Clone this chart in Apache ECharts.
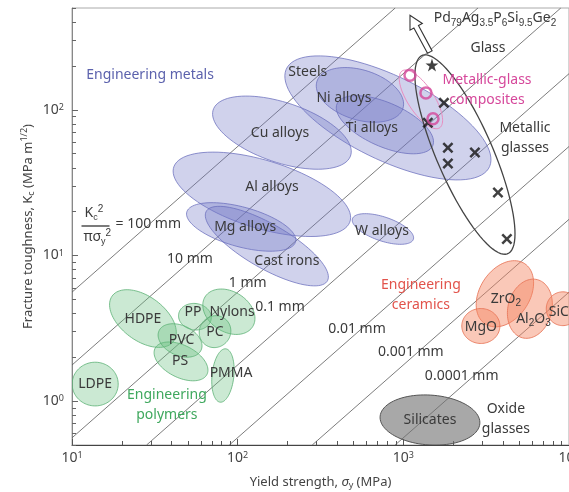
<!DOCTYPE html>
<html>
<head>
<meta charset="utf-8">
<title>Fracture toughness vs yield strength</title>
<script src="https://cdn.jsdelivr.net/npm/echarts@6.0.0/dist/echarts.min.js"></script>
<style>
  html, body { margin: 0; padding: 0; background: #fff; }
  #chart { width: 569px; height: 492px; }
</style>
</head>
<body>
<div id="chart"></div>
<script>
// Yield strength (MPa) against fracture toughness (MPa m^1/2), both on log scales.
// Envelopes: [name, centre sigma_y, centre K_c, half-length (decades), half-width (decades), tilt (deg)]
const metals = [
  ['Steels', 807, 88, 0.70, 0.28, -30],
  ['Cu alloys', 185, 69.7, 0.444, 0.203, -22],
  ['Al alloys', 140, 26.3, 0.564, 0.23, -20],
  ['Mg alloys', 105, 15.7, 0.344, 0.135, -18],
  ['Cast irons', 150, 11.6, 0.437, 0.147, -34],
  ['W alloys', 753, 15.2, 0.197, 0.081, -22],
  ['Ni alloys', 547, 126.6, 0.276, 0.169, -22],
  ['Ti alloys', 774, 79, 0.323, 0.147, -28]
];
const polymers = [
  ['LDPE', 13.8, 1.31, 0.139, 0.150, 0],
  ['HDPE', 26.8, 3.69, 0.243, 0.144, -44],
  ['PS', 45.5, 1.875, 0.181, 0.107, -33],
  ['PVC', 44.9, 2.61, 0.144, 0.10, -33],
  ['PP', 55.2, 3.80, 0.10, 0.09, -20],
  ['Nylons', 88.5, 4.11, 0.178, 0.132, -44],
  ['PC', 73, 3.0, 0.11, 0.095, 80],
  ['PMMA', 81.5, 1.50, 0.184, 0.066, 85]
];
const ceramics = [
  ['ZrO2', 4102, 5.46, 0.24, 0.155, 65],
  ['MgO', 2937, 3.28, 0.115, 0.12, 0],
  ['Al2O3', 5806, 4.31, 0.205, 0.133, 80],
  ['SiC', 9180, 4.31, 0.116, 0.10, 90]
];
const oxideGlasses = [['Silicates', 1448, 0.742, 0.302, 0.171, -5]];
const metallicGlassRange = [['Metallic glasses', 2355, 49.3, 0.728, 0.173, -69.5]];
const compositeRange = [['Metallic-glass composites', 1277, 118, 0.226, 0.082, -61]];

// individual alloys [sigma_y, K_c]
const glassCrosses = [[1758, 111.6], [1406, 81.5], [1858, 55], [1858, 42.8], [2704, 50.9], [3724, 27.1], [4217, 12.97]];
const glassStar = [[1489, 203]];
const compositeCircles = [[1097, 173], [1369, 130.7], [1510, 86.9]];
const offChartArrow = [[1445, 249, 1097, 445]];

// constant K_c^2 / (pi sigma_y^2) lines, end points [sigma_y, K_c]
const guideNames = ['100 mm', '10 mm', '1 mm', '0.1 mm', '0.01 mm', '0.001 mm', '0.0001 mm'];
const guideStart = [[10, 5.6], [10, 1.77], [10, 0.56], [28.2, 0.5], [89, 0.5], [282, 0.5], [892, 0.5]];
const guideEnd = [[893, 500], [2820, 500], [8920, 500], [10000, 177], [10000, 56], [10000, 17.7], [10000, 5.6]];

// axes
const xRange = [10, 10000];
const yRange = [0.5, 500];
const xMajor = [10, 100, 1000, 10000];
const yMajor = [1, 10, 100];

// text anchors [text, sigma_y, K_c]
const materialLabels = [
  ['Steels', 265, 182], ['Ni alloys', 438, 121], ['Cu alloys', 180, 69.7], ['Ti alloys', 646, 75.4],
  ['Al alloys', 161, 29.4], ['Mg alloys', 111, 15.7], ['Cast irons', 198, 9.17], ['W alloys', 743, 14.7],
  ['Metallic\nglasses', 5420, 64.4], ['Glass', 3243, 265],
  ['Pd{sub|79}Ag{sub|3.5}P{sub|6}Si{sub|9.5}Ge{sub|2}', 3573, 425],
  ['HDPE', 26.8, 3.69], ['PVC', 45.9, 2.61], ['PS', 44.9, 1.875], ['PP', 53.7, 4.11],
  ['Nylons', 92.5, 4.11], ['PC', 73, 3.0], ['PMMA', 91.2, 1.55], ['LDPE', 13.8, 1.31],
  ['ZrO{sub|2}', 4160, 5.05], ['MgO', 2940, 3.25], ['Al{sub|2}O{sub|3}', 6100, 3.69], ['SiC', 8690, 4.11],
  ['Silicates', 1448, 0.742], ['Oxide\nglasses', 4160, 0.753]
];
const guideLabels = [
  ['10 mm', 51.5, 9.46], ['1 mm', 115, 6.49], ['0.1 mm', 180, 4.45], ['0.01 mm', 525, 3.15],
  ['0.001 mm', 1111, 2.19], ['0.0001 mm', 2250, 1.48]
];
const metalTitle = [['Engineering metals', 29.6, 173]];
const compositeTitle = [['Metallic-glass\ncomposites', 3200, 137]];
const ceramicTitle = [['Engineering\nceramics', 1276, 5.38]];
const polymerTitle = [['Engineering\npolymers', 37.4, 0.939]];

const FONT = '"Noto Sans", sans-serif';
const TEXT = '#3a3a3a';
const lg = Math.log10;

function minorTicks(range) {
  const out = [];
  for (let d = Math.floor(lg(range[0])); d <= Math.ceil(lg(range[1])); d++) {
    for (let k = 2; k <= 9; k++) {
      const v = k * Math.pow(10, d);
      if (v >= range[0] && v <= range[1]) out.push(lg(v));
    }
  }
  return out;
}

function ellipseSeries(rows, fill, stroke, width, z) {
  return {
    type: 'custom',
    coordinateSystem: 'cartesian2d',
    silent: true,
    clip: true,
    z: z,
    data: rows.map(r => [lg(r[1]), lg(r[2]), r[3], r[4], r[5]]),
    renderItem: function (params, api) {
      const cx = api.value(0), cy = api.value(1);
      const a = api.value(2), b = api.value(3);
      const t = api.value(4) * Math.PI / 180;
      const pts = [];
      for (let i = 0; i < 90; i++) {
        const u = i / 90 * 2 * Math.PI;
        const dx = a * Math.cos(u), dy = b * Math.sin(u);
        pts.push(api.coord([cx + dx * Math.cos(t) - dy * Math.sin(t), cy + dx * Math.sin(t) + dy * Math.cos(t)]));
      }
      return {
        type: 'polygon',
        shape: { points: pts },
        style: { fill: fill, stroke: stroke, lineWidth: width }
      };
    }
  };
}

const RICH = {
  sub: { fontSize: 10, verticalAlign: 'bottom', lineHeight: 11 }
};

function labelSeries(rows, color, size) {
  return {
    type: 'custom',
    coordinateSystem: 'cartesian2d',
    silent: true,
    clip: false,
    z: 10,
    data: rows.map(r => [lg(r[1]), lg(r[2])]),
    renderItem: function (params, api) {
      const p = api.coord([api.value(0), api.value(1)]);
      return {
        type: 'text',
        x: p[0],
        y: p[1],
        style: {
          text: rows[params.dataIndex][0],
          fill: color,
          fontSize: size,
          fontFamily: FONT,
          align: 'center',
          verticalAlign: 'middle',
          lineHeight: size + 6,
          rich: RICH
        }
      };
    }
  };
}

const arrowSeries = {
  type: 'custom',
  coordinateSystem: 'cartesian2d',
  silent: true,
  clip: false,
  z: 9,
  data: offChartArrow.map(r => [lg(r[0]), lg(r[1]), lg(r[2]), lg(r[3])]),
  renderItem: function (params, api) {
    const p0 = api.coord([api.value(0), api.value(1)]);
    const p1 = api.coord([api.value(2), api.value(3)]);
    const len = Math.hypot(p1[0] - p0[0], p1[1] - p0[1]);
    const ux = (p1[0] - p0[0]) / len, uy = (p1[1] - p0[1]) / len;
    const nx = -uy, ny = ux;
    const hw = 7, sw = 2.6, hl = 13;
    const bx = p1[0] - ux * hl, by = p1[1] - uy * hl;
    const pts = [
      [p0[0] + nx * sw, p0[1] + ny * sw],
      [bx + nx * sw, by + ny * sw],
      [bx + nx * hw, by + ny * hw],
      p1,
      [bx - nx * hw, by - ny * hw],
      [bx - nx * sw, by - ny * sw],
      [p0[0] - nx * sw, p0[1] - ny * sw]
    ];
    return {
      type: 'polygon',
      shape: { points: pts },
      style: { fill: '#fff', stroke: '#333', lineWidth: 1.1 }
    };
  }
};

const CROSS = 'path://M0,1.6 L1.6,0 L5,3.4 L8.4,0 L10,1.6 L6.6,5 L10,8.4 L8.4,10 L5,6.6 L1.6,10 L0,8.4 L3.4,5 Z';
const STAR = 'path://M5,0 L6.2,3.6 L10,3.6 L6.9,5.9 L8.1,9.5 L5,7.3 L1.9,9.5 L3.1,5.9 L0,3.6 L3.8,3.6 Z';

const guideSeries = guideStart.map((s, i) => ({
  type: 'line',
  name: guideNames[i],
  silent: true,
  symbol: 'none',
  z: 1,
  lineStyle: { color: '#5a5a5a', width: 0.8 },
  data: [[lg(s[0]), lg(s[1])], [lg(guideEnd[i][0]), lg(guideEnd[i][1])]]
}));

const axisRich = {
  b: { fontSize: 14, color: '#444', fontFamily: FONT },
  s: { fontSize: 9, color: '#444', fontFamily: FONT, verticalAlign: 'top', lineHeight: 10 }
};
const nameRich = {
  i: { fontSize: 13, fontStyle: 'italic', color: '#444', fontFamily: FONT },
  sub: { fontSize: 9, color: '#444', fontFamily: FONT, verticalAlign: 'bottom', lineHeight: 10 },
  sup: { fontSize: 9, color: '#444', fontFamily: FONT, verticalAlign: 'top', lineHeight: 10 }
};

function powerLabel(v) {
  return '{b|10}{s|' + Math.round(v) + '}';
}

const chart = echarts.init(document.getElementById('chart'), null, { renderer: 'canvas' });

const option = {
  animation: false,
  backgroundColor: '#fff',
  textStyle: { fontFamily: FONT },
  grid: {
    left: 72, right: 0, top: 8, bottom: 47,
    outerBoundsMode: 'none',
    containLabel: false,
    show: true, borderColor: '#aaa', borderWidth: 1, backgroundColor: 'transparent'
  },
  xAxis: [{
    type: 'value',
    min: lg(xRange[0]),
    max: lg(xRange[1]),
    name: 'Yield strength, {i|σ}{sub|y} (MPa)',
    nameLocation: 'middle',
    nameGap: 29,
    nameMoveOverlap: false,
    nameTextStyle: { fontSize: 13, color: '#444', fontFamily: FONT, lineHeight: 16, rich: nameRich },
    axisLine: { show: true, onZero: false, lineStyle: { color: '#444', width: 1 } },
    axisTick: { show: true, inside: true, length: 6, customValues: xMajor.map(lg), lineStyle: { color: '#555' } },
    axisLabel: { customValues: xMajor.map(lg), formatter: powerLabel, rich: axisRich, margin: 6 },
    splitLine: { show: false }
  }, {
    type: 'value',
    min: lg(xRange[0]),
    max: lg(xRange[1]),
    position: 'bottom',
    axisLine: { show: false, onZero: false },
    axisTick: { show: true, inside: true, length: 4, customValues: minorTicks(xRange), lineStyle: { color: '#555' } },
    axisLabel: { show: false },
    splitLine: { show: false }
  }],
  yAxis: [{
    type: 'value',
    min: lg(yRange[0]),
    max: lg(yRange[1]),
    name: 'Fracture toughness, K{sub|c} (MPa m{sup|1/2})',
    nameLocation: 'middle',
    nameGap: 36,
    nameRotate: 90,
    nameMoveOverlap: false,
    nameTextStyle: { fontSize: 13, color: '#444', fontFamily: FONT, lineHeight: 16, rich: nameRich },
    axisLine: { show: true, onZero: false, lineStyle: { color: '#888', width: 1 } },
    axisTick: { show: true, inside: true, length: 6, customValues: yMajor.map(lg), lineStyle: { color: '#666' } },
    axisLabel: { customValues: yMajor.map(lg), formatter: powerLabel, rich: axisRich, margin: 8 },
    splitLine: { show: false }
  }, {
    type: 'value',
    min: lg(yRange[0]),
    max: lg(yRange[1]),
    position: 'left',
    axisLine: { show: false, onZero: false },
    axisTick: { show: true, inside: true, length: 4, customValues: minorTicks(yRange), lineStyle: { color: '#666' } },
    axisLabel: { show: false },
    splitLine: { show: false }
  }],
  graphic: [{
    type: 'group',
    left: 79,
    top: 204,
    silent: true,
    children: [
      { type: 'text', x: 3, y: 0, style: { text: 'K{sub|c}{sup|2}', fill: TEXT, fontSize: 14, fontFamily: FONT, lineHeight: 18,
        rich: { sub: { fontSize: 9, verticalAlign: 'bottom', lineHeight: 10 }, sup: { fontSize: 10, verticalAlign: 'top', lineHeight: 10 } } } },
      { type: 'line', shape: { x1: 0, y1: 22, x2: 28, y2: 22 }, style: { stroke: '#333', lineWidth: 1.3 } },
      { type: 'text', x: 2, y: 24, style: { text: 'πσ{sub|y}{sup|2}', fill: TEXT, fontSize: 14, fontFamily: FONT, lineHeight: 18,
        rich: { sub: { fontSize: 9, verticalAlign: 'bottom', lineHeight: 10 }, sup: { fontSize: 10, verticalAlign: 'top', lineHeight: 10 } } } },
      { type: 'text', x: 34, y: 13, style: { text: '= 100 mm', fill: TEXT, fontSize: 14, fontFamily: FONT } }
    ]
  }],
  series: [].concat(
    guideSeries,
    [
      ellipseSeries(metals, 'rgba(112,118,198,0.33)', 'rgba(105,110,188,0.75)', 1, 2),
      ellipseSeries(polymers, 'rgba(105,192,130,0.35)', 'rgba(92,178,118,0.8)', 1, 2),
      ellipseSeries(ceramics, 'rgba(244,132,98,0.45)', 'rgba(232,118,88,0.85)', 1, 2),
      ellipseSeries(oxideGlasses, 'rgba(115,115,115,0.62)', '#555', 1, 2),
      ellipseSeries(compositeRange, 'rgba(0,0,0,0)', '#e98cc0', 1, 4),
      ellipseSeries(metallicGlassRange, 'rgba(0,0,0,0)', '#444', 1.3, 4),
      {
        type: 'scatter', silent: true, z: 6, symbol: CROSS, symbolSize: 11,
        itemStyle: { color: '#111' },
        data: glassCrosses.map(p => [lg(p[0]), lg(p[1])])
      },
      {
        type: 'scatter', silent: true, z: 6, symbol: STAR, symbolSize: 13,
        itemStyle: { color: '#111' },
        data: glassStar.map(p => [lg(p[0]), lg(p[1])])
      },
      {
        type: 'scatter', silent: true, z: 6, symbol: 'circle', symbolSize: 11,
        itemStyle: { color: 'rgba(255,255,255,0)', borderColor: '#d4479a', borderWidth: 2.5 },
        data: compositeCircles.map(p => [lg(p[0]), lg(p[1])])
      },
      arrowSeries,
      labelSeries(materialLabels, TEXT, 14),
      labelSeries(guideLabels, TEXT, 14),
      labelSeries(metalTitle, '#5c62ad', 14),
      labelSeries(compositeTitle, '#d6489b', 14),
      labelSeries(ceramicTitle, '#e2534b', 14),
      labelSeries(polymerTitle, '#3fa85e', 14)
    ]
  )
};

chart.setOption(option);
</script>
</body>
</html>
